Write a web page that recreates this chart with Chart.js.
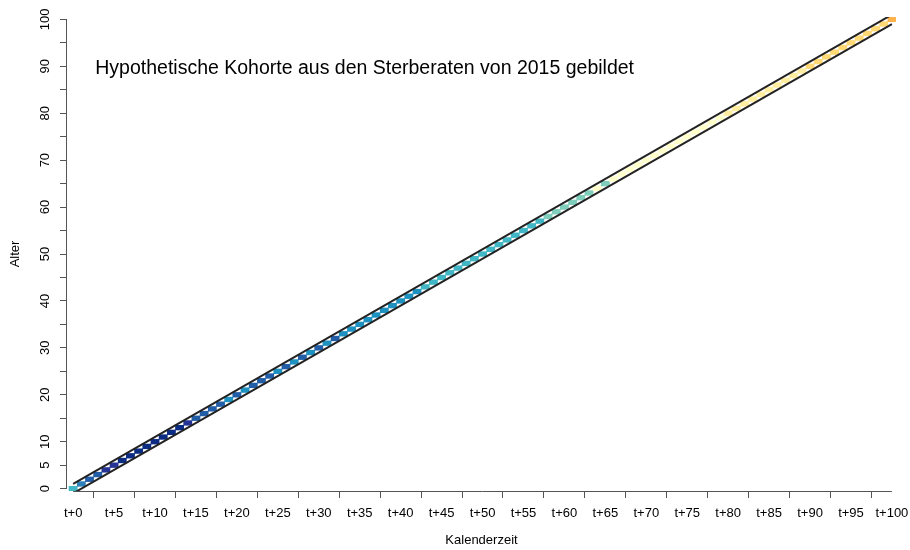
<!DOCTYPE html>
<html><head><meta charset="utf-8">
<script src="https://cdn.jsdelivr.net/npm/chart.js@4.4.1/dist/chart.umd.min.js"></script>
<style>html,body{margin:0;padding:0;background:#fff}#wrap{width:910px;height:550px}</style>
</head><body><div id="wrap"><canvas id="c" width="910" height="550"></canvas></div>
<script>
// ---- data ----
const ages = [0,1,2,3,4,5,6,7,8,9,10,11,12,13,14,15,16,17,18,19,20,21,22,23,24,25,26,27,28,29,30,31,32,33,34,35,36,37,38,39,40,41,42,43,44,45,46,47,48,49,50,51,52,53,54,55,56,57,58,59,60,61,62,63,64,65,66,67,68,69,70,71,72,73,74,75,76,77,78,79,80,81,82,83,84,85,86,87,88,89,90,91,92,93,94,95,96,97,98,99,100];
const palette = ['#0c2c84','#253494','#225ea8','#2c7fb8','#1d91c0','#41b6c4','#7fcdbb','#ffffcc','#ffeda0','#fed976','#feb24c'];
const colorClass = [5,3,2,2,1,1,0,0,0,0, 0,0,0,0,1,2,2,2,2,4, 2,4,2,2,2,4,2,4,2,4, 2,4,2,4,4,4,4,4,4,4, 4,4,4,5,5,5,5,5,5,5, 5,5,5,5,5,5,5,5,6,6, 6,6,6,6,7,6,7,7,7,7, 7,7,7,7,7,7,7,7,7,7, 8,8,8,8,8,8,8,8,8,8, 9,9,9,9,9,9,9,9,9,9, 10];
const lineX = [0, 100];
const upperY = [1, 101];
const lowerY = [-1, 99];
const xTicks = [0,5,10,15,20,25,30,35,40,45,50,55,60,65,70,75,80,85,90,95,100];
const xTickLabels = ['t+0','t+5','t+10','t+15','t+20','t+25','t+30','t+35','t+40','t+45','t+50','t+55','t+60','t+65','t+70','t+75','t+80','t+85','t+90','t+95','t+100'];
const yTicks = [0,5,10,15,20,25,30,35,40,45,50,55,60,65,70,75,80,85,90,95,100];
const yTickLabels = ['0','5','10','','20','','30','','40','','50','','60','','70','','80','','90','','100'];
const titleText = 'Hypothetische Kohorte aus den Sterberaten von 2015 gebildet';
const titleAt = {x: 2.7, y: 89.5};
const xTitle = 'Kalenderzeit';
const yTitle = 'Alter';

const FONT = '"Liberation Sans", Arial, Helvetica, sans-serif';

const cells = ages.map(a => ({x: a, y: [a - 0.5, a + 0.5]}));
const cellColors = colorClass.map(c => palette[c]);

const rDecor = {
  id: 'rDecor',
  afterDraw(chart) {
    const {ctx, scales: {x, y}} = chart;
    ctx.save();
    ctx.strokeStyle = '#555';
    ctx.lineWidth = 1;
    ctx.beginPath();
    const yb = Math.round(y.bottom) + 0.5;
    ctx.moveTo(x.getPixelForValue(xTicks[0]), yb);
    ctx.lineTo(x.getPixelForValue(xTicks[xTicks.length - 1]), yb);
    const xl = Math.round(x.left) - 0.5;
    ctx.moveTo(xl, y.getPixelForValue(yTicks[0]));
    ctx.lineTo(xl, y.getPixelForValue(yTicks[yTicks.length - 1]));
    ctx.stroke();
    ctx.fillStyle = '#000';
    ctx.font = '19.5px ' + FONT;
    ctx.textBaseline = 'middle';
    ctx.textAlign = 'left';
    ctx.fillText(titleText, x.getPixelForValue(titleAt.x), y.getPixelForValue(titleAt.y));
    ctx.restore();
  }
};

new Chart(document.getElementById('c'), {
  type: 'bar',
  data: {
    datasets: [
      {type: 'line', data: lineX.map((v, i) => ({x: v, y: upperY[i]})), borderColor: '#222', borderWidth: 2, pointRadius: 0, order: 0},
      {type: 'line', data: lineX.map((v, i) => ({x: v, y: lowerY[i]})), borderColor: '#222', borderWidth: 2, pointRadius: 0, order: 0},
      {type: 'bar', data: cells, backgroundColor: cellColors, borderWidth: 0, barPercentage: 1, categoryPercentage: 1, order: 1}
    ]
  },
  options: {
    responsive: false,
    animation: false,
    layout: {padding: {top: 17, right: 14, left: 0, bottom: 0}},
    plugins: {legend: {display: false}, tooltip: {enabled: false}},
    scales: {
      x: {
        type: 'linear', offset: false, min: -0.75, max: 100.5,
        afterBuildTicks: s => { s.ticks = xTicks.map(v => ({value: v})); },
        afterFit: s => { s.height = 59; s.paddingLeft = 0; s.paddingRight = 0; },
        border: {display: false},
        grid: {drawOnChartArea: false, drawTicks: true, tickLength: 7, color: '#555', lineWidth: 1},
        ticks: {autoSkip: false, maxRotation: 0, minRotation: 0, padding: 8, color: '#000', font: {family: FONT, size: 13},
          callback: (v) => xTickLabels[xTicks.indexOf(v)] ?? ''},
        title: {display: true, text: xTitle, color: '#000', font: {family: FONT, size: 13}, padding: {top: 0, bottom: 2}}
      },
      y: {
        type: 'linear', min: -0.5, max: 100.5,
        afterBuildTicks: s => { s.ticks = yTicks.map(v => ({value: v})); },
        afterFit: s => { s.width = 67; s.paddingTop = 0; s.paddingBottom = 0; },
        border: {display: false},
        grid: {drawOnChartArea: false, drawTicks: true, tickLength: 7, color: '#555', lineWidth: 1},
        ticks: {autoSkip: false, minRotation: 90, maxRotation: 90, crossAlign: 'center', padding: 4, color: '#000', font: {family: FONT, size: 13},
          callback: (v) => yTickLabels[yTicks.indexOf(v)] ?? ''},
        title: {display: true, text: yTitle, color: '#000', font: {family: FONT, size: 13}, padding: {top: 8, bottom: 0}}
      }
    }
  },
  plugins: [rDecor]
});
</script>
</body></html>
